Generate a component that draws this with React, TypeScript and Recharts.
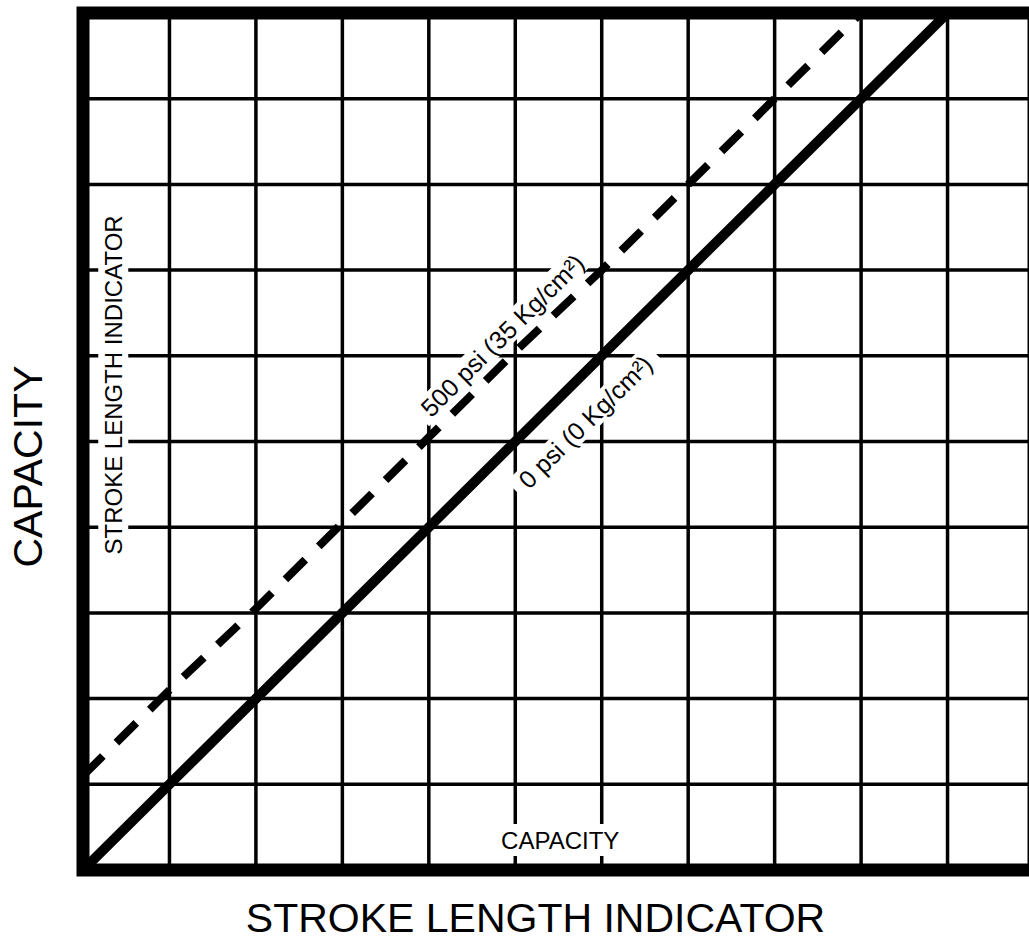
import {
  CartesianGrid,
  Label,
  Line,
  LineChart,
  ReferenceArea,
  ReferenceDot,
  XAxis,
  YAxis,
} from 'recharts';

// grid divisions
const STROKE_TICKS = [0, 1, 2, 3, 4, 5, 6, 7, 8, 9, 10, 11];
const CAPACITY_TICKS = [0, 1, 2, 3, 4, 5, 6, 7, 8, 9, 10];

// capacity vs stroke length
const STROKE_LENGTH = [0, 1, 2, 3, 4, 5, 6, 7, 8, 9, 10];
const CAPACITY_0_PSI = [0, 1, 2, 3, 4, 5, 6, 7, 8, 9, 10];
const CAPACITY_500_PSI = [1.1, 2.1, 3.05, 4.05, 5.05, 6.05, 7, 8, 9, 10, null];

const data = STROKE_LENGTH.map((stroke, i) => ({
  stroke,
  psi0: CAPACITY_0_PSI[i],
  psi500: CAPACITY_500_PSI[i],
}));

const FONT = '"Liberation Sans", Arial, Helvetica, sans-serif';
const INK = '#000';
const SLOPE = -44.75;

// axes keep their ticks (the grid needs them) but draw nothing
const noTick = () => <g />;

// text on a white patch that breaks the grid lines underneath
function tag(text: string, angle: number, boxW: number, boxH: number, size = 24) {
  return (props: any) => {
    const { x, y } = props.viewBox;
    return (
      <g transform={`translate(${x},${y}) rotate(${angle})`}>
        <rect x={-boxW / 2} y={-boxH / 2} width={boxW} height={boxH} fill="#fff" />
        <text
          x={0}
          y={0}
          textAnchor="middle"
          dominantBaseline="central"
          fontFamily={FONT}
          fontSize={size}
          fill={INK}
        >
          {text}
        </text>
      </g>
    );
  };
}

export default function App() {
  return (
    <div
      style={{
        position: 'absolute',
        left: 0,
        top: 0,
        width: 1029,
        height: 941,
        overflow: 'hidden',
        background: '#fff',
      }}
    >
      <LineChart width={1060} height={941} data={data} margin={{ top: 13, right: 26, bottom: 0, left: 0 }}>
        <CartesianGrid stroke={INK} strokeWidth={3.5} />
        <XAxis
          type="number"
          dataKey="stroke"
          domain={[0, 11]}
          ticks={STROKE_TICKS}
          interval={0}
          height={71}
          tick={noTick}
          tickLine={false}
          axisLine={false}
          label={
            <Label
              content={(p: any) => (
                <text
                  x={p.viewBox.x + p.viewBox.width / 2 - 23}
                  y={p.viewBox.y + 62}
                  textAnchor="middle"
                  fontFamily={FONT}
                  fontSize={41}
                  fill={INK}
                >
                  STROKE LENGTH INDICATOR
                </text>
              )}
            />
          }
        />
        <YAxis
          type="number"
          domain={[0, 10]}
          ticks={CAPACITY_TICKS}
          interval={0}
          width={83}
          tick={noTick}
          tickLine={false}
          axisLine={false}
          label={
            <Label
              content={(p: any) => (
                <text
                  transform={`translate(${p.viewBox.x + 42},${p.viewBox.y + p.viewBox.height / 2 + 25}) rotate(-90)`}
                  textAnchor="middle"
                  fontFamily={FONT}
                  fontSize={41}
                  fill={INK}
                >
                  CAPACITY
                </text>
              )}
            />
          }
        />
        <Line
          dataKey="psi0"
          stroke={INK}
          strokeWidth={10}
          dot={false}
          activeDot={false}
          isAnimationActive={false}
        />
        <Line
          dataKey="psi500"
          stroke={INK}
          strokeWidth={8}
          strokeDasharray="28 19"
          dot={false}
          activeDot={false}
          isAnimationActive={false}
        />
        <ReferenceArea x1={0} x2={11} y1={0} y2={10} fill="none" stroke={INK} strokeWidth={13} />
        <ReferenceDot x={0.35} y={5.66} r={0} fill="none" stroke="none" label={tag('STROKE LENGTH INDICATOR', -90, 350, 30)} />
        <ReferenceDot x={5.52} y={0.35} r={0} fill="none" stroke="none" label={tag('CAPACITY', 0, 134, 32)} />
        <ReferenceDot x={4.85} y={6.24} r={0} fill="none" stroke="none" label={tag('500 psi (35 Kg/cm²)', SLOPE, 232, 26, 25)} />
        <ReferenceDot x={5.81} y={5.23} r={0} fill="none" stroke="none" label={tag('0 psi (0 Kg/cm²)', SLOPE, 196, 26, 25)} />
      </LineChart>
    </div>
  );
}
